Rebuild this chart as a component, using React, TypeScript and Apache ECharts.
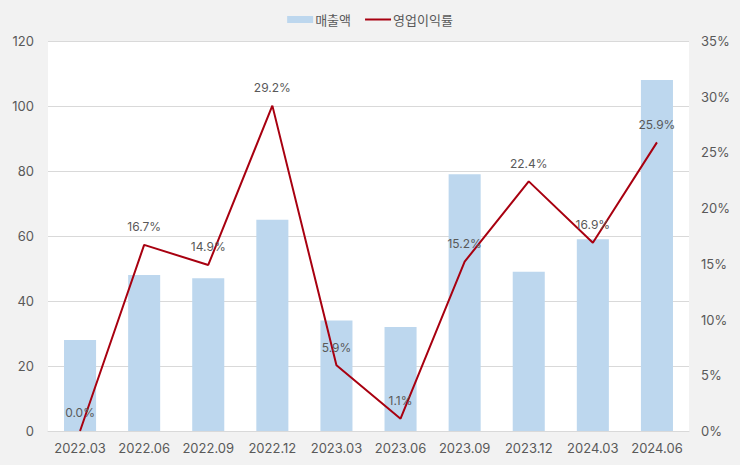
import React, { useEffect, useRef } from "react";
import * as echarts from "echarts";

const categories = ["2022.03", "2022.06", "2022.09", "2022.12", "2023.03", "2023.06", "2023.09", "2023.12", "2024.03", "2024.06"];
const revenue = [28, 48, 47, 65, 34, 32, 79, 49, 59, 108];
const margin = [0.0, 16.7, 14.9, 29.2, 5.9, 1.1, 15.2, 22.4, 16.9, 25.9];
const leftTicks = { min: 0, max: 120, interval: 20 };
const rightTicks = { min: 0, max: 35, interval: 5 };

const FONT = "Inter, 'Noto Sans CJK KR', sans-serif";
const TXT = "#595959";
const RED = "#a80010";

export default function App() {
  const ref = useRef<HTMLDivElement>(null);
  useEffect(() => {
    const chart = echarts.init(ref.current!, null, { renderer: "svg" });
    chart.setOption({
      animation: false,
      backgroundColor: "#f2f2f2",
      textStyle: { fontFamily: FONT },
      legend: {
        top: 8,
        left: "center",
        itemWidth: 26,
        itemHeight: 7,
        itemGap: 14,
        symbolKeepAspect: true,
        textStyle: { fontFamily: "'Noto Sans CJK KR', sans-serif", fontSize: 13, color: TXT, padding: [0, 0, 0, -3] },
        data: [
          { name: "매출액", icon: "rect" },
          { name: "영업이익률", icon: "path://M0,0h26v2h-26z", itemStyle: { color: RED } },
        ],
      },
      grid: {
        left: 48,
        right: 51,
        top: 41,
        bottom: 34,
        show: true,
        backgroundColor: "#ffffff",
        borderWidth: 0,
      },
      xAxis: {
        type: "category",
        data: categories,
        axisTick: { show: false },
        axisLine: { lineStyle: { color: "#d9d9d9", width: 1 } },
        axisLabel: { color: TXT, fontSize: 13, margin: 10, fontFamily: FONT, interval: 0 },
      },
      yAxis: [
        {
          type: "value",
          ...leftTicks,
          axisLine: { show: false },
          axisTick: { show: false },
          splitLine: { lineStyle: { color: "#d9d9d9" } },
          axisLabel: { color: TXT, fontSize: 13, margin: 14, fontFamily: FONT },
        },
        {
          type: "value",
          ...rightTicks,
          axisLine: { show: false },
          axisTick: { show: false },
          splitLine: { show: false },
          axisLabel: { color: TXT, fontSize: 13, margin: 12, formatter: "{value}%", fontFamily: FONT },
        },
      ],
      series: [
        {
          name: "매출액",
          type: "bar",
          data: revenue,
          barWidth: "50%",
          itemStyle: { color: "#bdd7ee" },
        },
        {
          name: "영업이익률",
          type: "line",
          yAxisIndex: 1,
          data: margin,
          symbol: "circle",
          symbolSize: 0.01,
          showSymbol: true,
          lineStyle: { color: RED, width: 2 },
          itemStyle: { color: RED },
          label: {
            show: true,
            position: "top",
            distance: 12,
            color: TXT,
            fontSize: 12,
            fontFamily: FONT,
            formatter: (p: any) => p.value.toFixed(1) + "%",
          },
        },
      ],
    });
    return () => chart.dispose();
  }, []);
  return <div ref={ref} style={{ width: 740, height: 465, position: "absolute", left: 0, top: 0 }} />;
}
